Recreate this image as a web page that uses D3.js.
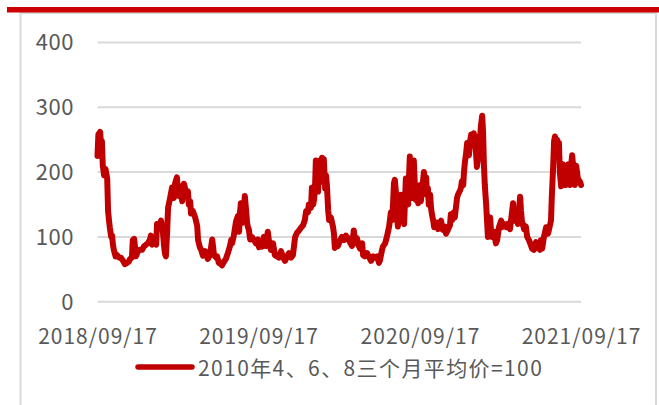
<!DOCTYPE html>
<html lang="zh">
<head>
<meta charset="UTF-8">
<title>价格指数</title>
<script src="https://d3js.org/d3.v7.min.js"></script>
<style>
  html, body { margin: 0; padding: 0; background: #fff; }
  svg text { font-family: "Noto Sans CJK SC", "Liberation Sans", sans-serif; fill: #595959; }
</style>
</head>
<body>
<div id="chart"></div>
<script>
// tick labels on both axes
var yTicks = [0, 100, 200, 300, 400];
var xTicks = ["2018/09/17", "2019/09/17", "2020/09/17", "2021/09/17"];
var seriesName = "2010年4、6、8三个月平均价=100";

// dates and index values
var dates = [
  "2018-09-17","2018-09-19","2018-09-23","2018-09-25","2018-09-27","2018-09-29","2018-10-02","2018-10-05","2018-10-09","2018-10-11",
  "2018-10-13","2018-10-15","2018-10-18","2018-10-20","2018-10-22","2018-10-24","2018-10-28","2018-10-31","2018-11-05","2018-11-09",
  "2018-11-14","2018-11-18","2018-11-23","2018-11-27","2018-11-30","2018-12-04","2018-12-06","2018-12-09","2018-12-11","2018-12-13",
  "2018-12-18","2018-12-22","2018-12-27","2018-12-31","2019-01-05","2019-01-09","2019-01-14","2019-01-16","2019-01-19","2019-01-23",
  "2019-01-28","2019-01-30","2019-02-03","2019-02-08","2019-02-12","2019-02-15","2019-02-17","2019-02-19","2019-02-22","2019-02-24",
  "2019-02-28","2019-03-05","2019-03-07","2019-03-09","2019-03-12","2019-03-16","2019-03-18","2019-03-21","2019-03-23","2019-03-28",
  "2019-04-01","2019-04-06","2019-04-10","2019-04-12","2019-04-15","2019-04-17","2019-04-21","2019-04-26","2019-05-01","2019-05-03",
  "2019-05-07","2019-05-10","2019-05-14","2019-05-19","2019-05-23","2019-05-25","2019-05-30","2019-06-04","2019-06-06","2019-06-08",
  "2019-06-13","2019-06-15","2019-06-19","2019-06-24","2019-06-26","2019-07-01","2019-07-05","2019-07-10","2019-07-14","2019-07-17",
  "2019-07-19","2019-07-23","2019-07-28","2019-08-01","2019-08-04","2019-08-06","2019-08-08","2019-08-11","2019-08-13","2019-08-15",
  "2019-08-17","2019-08-20","2019-08-22","2019-08-24","2019-08-26","2019-08-29","2019-09-02","2019-09-07","2019-09-11","2019-09-16",
  "2019-09-18","2019-09-23","2019-09-25","2019-09-29","2019-10-04","2019-10-08","2019-10-11","2019-10-15","2019-10-20","2019-10-24",
  "2019-10-29","2019-11-02","2019-11-07","2019-11-11","2019-11-16","2019-11-21","2019-11-25","2019-11-30","2019-12-04","2019-12-09",
  "2019-12-13","2019-12-18","2019-12-22","2019-12-27","2019-12-31","2020-01-03","2020-01-07","2020-01-09","2020-01-14","2020-01-16",
  "2020-01-19","2020-01-21","2020-01-23","2020-01-25","2020-01-28","2020-01-30","2020-02-01","2020-02-03","2020-02-06","2020-02-08",
  "2020-02-10","2020-02-12","2020-02-15","2020-02-17","2020-02-19","2020-02-22","2020-02-24","2020-02-28","2020-03-04","2020-03-06",
  "2020-03-08","2020-03-11","2020-03-15","2020-03-20","2020-03-24","2020-03-29","2020-04-02","2020-04-07","2020-04-11","2020-04-16",
  "2020-04-20","2020-04-23","2020-04-27","2020-05-02","2020-05-04","2020-05-09","2020-05-11","2020-05-15","2020-05-20","2020-05-24",
  "2020-05-29","2020-06-03","2020-06-07","2020-06-12","2020-06-16","2020-06-18","2020-06-23","2020-06-25","2020-06-30","2020-07-04",
  "2020-07-09","2020-07-13","2020-07-16","2020-07-18","2020-07-20","2020-07-22","2020-07-25","2020-07-27","2020-07-29","2020-07-31",
  "2020-08-03","2020-08-05","2020-08-07","2020-08-10","2020-08-12","2020-08-14","2020-08-16","2020-08-19","2020-08-21","2020-08-23",
  "2020-08-25","2020-08-28","2020-08-30","2020-09-01","2020-09-03","2020-09-06","2020-09-08","2020-09-10","2020-09-13","2020-09-15",
  "2020-09-17","2020-09-19","2020-09-22","2020-09-26","2020-09-28","2020-10-01","2020-10-03","2020-10-05","2020-10-07","2020-10-10",
  "2020-10-12","2020-10-14","2020-10-17","2020-10-19","2020-10-21","2020-10-26","2020-10-28","2020-11-01","2020-11-04","2020-11-06",
  "2020-11-10","2020-11-13","2020-11-15","2020-11-20","2020-11-24","2020-11-26","2020-11-29","2020-12-03","2020-12-05","2020-12-10",
  "2020-12-12","2020-12-17","2020-12-19","2020-12-21","2020-12-24","2020-12-26","2020-12-28","2020-12-30","2021-01-02","2021-01-04",
  "2021-01-06","2021-01-08","2021-01-11","2021-01-13","2021-01-15","2021-01-17","2021-01-20","2021-01-22","2021-01-24","2021-01-27",
  "2021-01-29","2021-01-31","2021-02-02","2021-02-05","2021-02-07","2021-02-09","2021-02-11","2021-02-14","2021-02-16","2021-02-18",
  "2021-02-20","2021-02-23","2021-02-25","2021-02-27","2021-03-04","2021-03-08","2021-03-11","2021-03-15","2021-03-20","2021-03-22",
  "2021-03-26","2021-03-31","2021-04-04","2021-04-09","2021-04-14","2021-04-16","2021-04-18","2021-04-23","2021-04-27","2021-05-02",
  "2021-05-04","2021-05-06","2021-05-11","2021-05-15","2021-05-18","2021-05-22","2021-05-27","2021-05-29","2021-06-02","2021-06-07",
  "2021-06-11","2021-06-16","2021-06-18","2021-06-21","2021-06-25","2021-06-30","2021-07-04","2021-07-06","2021-07-11","2021-07-13",
  "2021-07-16","2021-07-18","2021-07-20","2021-07-22","2021-07-25","2021-07-27","2021-07-29","2021-07-31","2021-08-03","2021-08-05",
  "2021-08-07","2021-08-09","2021-08-12","2021-08-14","2021-08-16","2021-08-19","2021-08-21","2021-08-23","2021-08-25","2021-08-28",
  "2021-08-30","2021-09-01","2021-09-03","2021-09-06","2021-09-08","2021-09-10","2021-09-15","2021-09-17"
];
var values = [
  225,258,262,240,248,210,195,205,190,140,
  126,114,100,102,88,80,70,72,68,68,
  63,58,60,62,66,68,95,97,85,70,
  78,80,80,85,88,90,96,102,88,92,
  88,120,115,125,110,85,74,70,110,145,
  158,176,168,160,183,192,175,163,178,155,
  182,168,170,150,155,136,140,131,117,95,
  84,80,71,78,70,66,72,96,85,72,
  68,70,60,58,56,62,66,76,85,95,
  90,102,124,132,108,138,152,130,122,145,
  163,140,122,115,112,96,100,95,90,96,
  84,90,85,100,86,108,92,80,90,72,
  70,68,78,70,63,70,75,68,72,100,
  106,110,114,118,126,140,138,150,145,176,
  150,158,175,218,190,170,205,218,185,222,
  190,220,175,195,180,140,126,130,115,105,
  83,88,86,95,100,95,102,98,92,86,
  110,90,98,85,82,90,72,70,75,70,
  63,70,68,70,60,63,80,85,90,100,
  116,138,126,152,183,188,165,130,116,160,
  150,165,130,140,120,155,190,165,150,190,
  224,170,160,185,218,170,157,165,152,170,
  180,155,175,200,185,192,165,175,150,165,
  145,135,125,115,118,122,112,120,125,112,
  110,116,105,112,118,135,126,138,130,160,
  165,172,176,186,180,202,216,226,245,232,
  226,245,258,246,250,260,245,230,208,222,
  255,250,270,287,262,210,180,150,125,100,
  105,130,110,100,108,90,95,115,125,115,
  120,115,120,112,140,152,125,130,120,162,
  140,125,112,116,100,95,86,82,80,92,
  85,80,95,82,100,115,105,110,125,165,
  210,248,255,240,250,230,245,200,178,195,
  212,190,205,180,200,212,190,180,205,226,
  210,195,180,210,200,190,185,180
];

var W = 659, H = 405;
var margin = {left: 97.5, right: 78, top: 42.5, bottom: 103.3};
var parse = d3.timeParse("%Y-%m-%d");
var tickParse = d3.timeParse("%Y/%m/%d");
var data = dates.map(function(d, i) { return {date: parse(d), value: values[i]}; });

var svg = d3.select("#chart").append("svg")
  .attr("width", W).attr("height", H);

// frame and red bar on top
svg.append("rect")
  .attr("x", 20.5).attr("y", 13).attr("width", 635.5).attr("height", 420)
  .attr("fill", "none").attr("stroke", "#d9d9d9").attr("stroke-width", 2);
svg.append("rect")
  .attr("x", 7).attr("y", 7).attr("width", W - 7).attr("height", 5.5)
  .attr("fill", "#cc0000");

var x = d3.scaleTime()
  .domain([tickParse(xTicks[0]), tickParse(xTicks[xTicks.length - 1])])
  .range([margin.left, W - margin.right]);
var y = d3.scaleLinear()
  .domain([0, 400])
  .range([H - margin.bottom, margin.top]);

// gridlines
svg.append("g").selectAll("line")
  .data(yTicks).enter().append("line")
  .attr("x1", x.range()[0]).attr("x2", x.range()[1])
  .attr("y1", function(d) { return y(d); }).attr("y2", function(d) { return y(d); })
  .attr("stroke", "#d9d9d9").attr("stroke-width", 2);

// y labels
svg.append("g").selectAll("text")
  .data(yTicks).enter().append("text")
  .attr("x", 74).attr("y", function(d) { return y(d); })
  .attr("dy", "0.36em")
  .attr("text-anchor", "end")
  .style("font-size", "22px")
  .style("letter-spacing", "0.5px")
  .text(function(d) { return d; });

// x labels
svg.append("g").selectAll("text")
  .data(xTicks).enter().append("text")
  .attr("x", function(d) { return x(tickParse(d)) + 0.5; })
  .attr("y", 344)
  .attr("text-anchor", "middle")
  .style("font-size", "21px")
  .style("letter-spacing", "1px")
  .text(function(d) { return d; });

// the line
var line = d3.line()
  .x(function(d) { return x(d.date); })
  .y(function(d) { return y(d.value); });

svg.append("path")
  .datum(data)
  .attr("d", line)
  .attr("fill", "none")
  .attr("stroke", "#c00000")
  .attr("stroke-width", 6)
  .attr("stroke-linejoin", "round")
  .attr("stroke-linecap", "round");

// legend
svg.append("line")
  .attr("x1", 138).attr("x2", 192).attr("y1", 367).attr("y2", 367)
  .attr("stroke", "#c00000").attr("stroke-width", 5.5)
  .attr("stroke-linecap", "round");
svg.append("text")
  .attr("x", 198).attr("y", 376)
  .style("font-size", "21px")
  .style("letter-spacing", "1.4px")
  .text(seriesName);
</script>
</body>
</html>
